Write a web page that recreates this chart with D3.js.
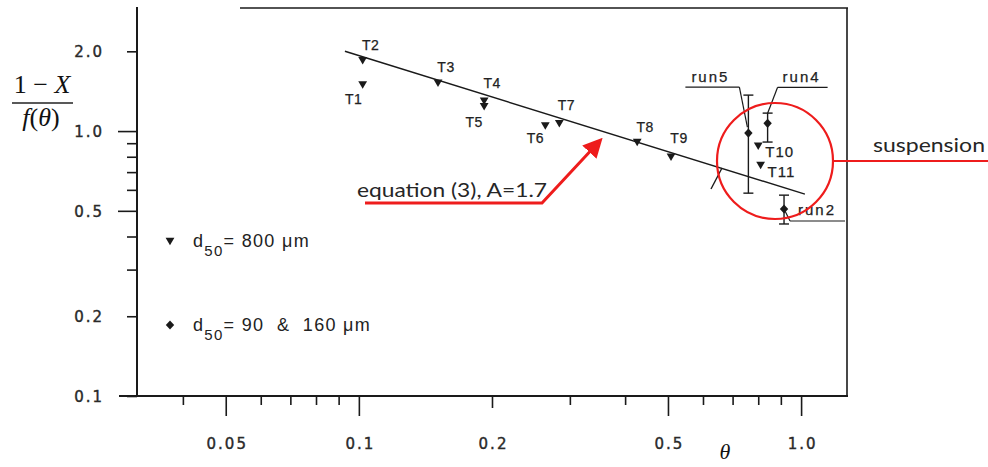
<!DOCTYPE html>
<html><head><meta charset="utf-8">
<script src="https://cdn.jsdelivr.net/npm/d3@7"></script>
<style>body{margin:0;background:#fff}svg{display:block}</style>
</head><body>
<svg id="c" width="988" height="467"></svg>
<script>
// ---- data ----
const triLabels = ["T1","T2","T3","T4","T5","T6","T7","T8","T9","T10","T11"];
const triTheta  = [0.102,0.102,0.151,0.192,0.192,0.264,0.284,0.426,0.508,0.80,0.81];
const triValue  = [1.50,1.85,1.52,1.30,1.24,1.05,1.07,0.91,0.80,0.88,0.745];

const runLabels = ["run5","run4","run2"];
const runTheta  = [0.76,0.84,0.915];
const runValue  = [0.983,1.07,0.508];
const runLow    = [0.583,0.909,0.446];
const runHigh   = [1.367,1.169,0.573];

const fitTheta = [0.093,1.02];
const fitValue = [2.0,0.578];

const xTickValues = [0.04,0.05,0.06,0.07,0.08,0.09,0.1,0.2,0.3,0.4,0.5,0.6,0.7,0.8,0.9,1.0];
const xTickText   = {"0.05":"0.05","0.1":"0.1","0.2":"0.2","0.5":"0.5","1":"1.0"};
const yTickValues = [0.1,0.2,0.3,0.4,0.5,0.6,0.7,0.8,0.9,1.0,2.0];
const yTickText   = {"0.1":"0.1","0.2":"0.2","0.5":"0.5","1":"1.0","2":"2.0"};

// ---- layout / style ----
const ink = "#1a1a1a", red = "#ee1c1c";
const svg = d3.select("#c");
svg.append("rect").attr("width",988).attr("height",467).attr("fill","#fff");

const x = d3.scaleLog().domain([0.0315,1.27]).range([137,847]);
const y = d3.scaleLog().domain([0.1,2.94]).range([396,7]);

// frame
const g = svg.append("g");
g.append("line").attr("x1",137).attr("x2",137).attr("y1",7).attr("y2",396).attr("stroke",ink).attr("stroke-width",2);
g.append("line").attr("x1",119).attr("x2",848).attr("y1",396).attr("y2",396).attr("stroke",ink).attr("stroke-width",2);
g.append("line").attr("x1",847).attr("x2",847).attr("y1",8).attr("y2",397).attr("stroke",ink).attr("stroke-width",1.6);
g.append("line").attr("x1",240).attr("x2",848).attr("y1",8).attr("y2",8).attr("stroke",ink).attr("stroke-width",1.4);

// axes
const tickFont = "'DejaVu Sans', Verdana, sans-serif";
const styleTick = sel => sel.style("font-family",tickFont).style("font-size","15px")
  .style("letter-spacing","2px").attr("fill","#2a2a2a").attr("stroke","#2a2a2a").attr("stroke-width",0.4);
const xAxis = d3.axisBottom(x).tickValues(xTickValues).tickSize(9)
  .tickFormat(d => xTickText[String(+d.toPrecision(3))] || "");
const xg = svg.append("g").attr("transform","translate(0,396)").call(xAxis);
xg.select(".domain").remove();
xg.selectAll(".tick line").attr("stroke",ink).attr("stroke-width",1.6)
  .attr("y2", d => ([0.05,0.1,0.5,1].some(v=>Math.abs(v-d)<1e-9) ? 20 : Math.abs(d-0.2)<1e-9 ? 12 : 9));
xg.selectAll(".tick text").attr("y",53).attr("dy",0).attr("dx",1).call(styleTick);

const yAxis = d3.axisLeft(y).tickValues(yTickValues).tickSize(10)
  .tickFormat(d => yTickText[String(+d.toPrecision(3))] || "");
const yg = svg.append("g").attr("transform","translate(137,0)").call(yAxis);
yg.select(".domain").remove();
yg.selectAll(".tick line").attr("stroke",ink).attr("stroke-width",1.6)
  .attr("x2", d => ([0.5,1].some(v=>Math.abs(v-d)<1e-9) ? -19 : -10));
yg.selectAll(".tick text").attr("x",-33).attr("dy","0.36em").attr("text-anchor","end").call(styleTick);

// axis titles
const serif = "'Liberation Serif','DejaVu Serif',serif";
const num = svg.append("text").attr("x",42).attr("y",93).attr("text-anchor","middle")
  .style("font-family",serif).style("font-size","26px").attr("fill","#111");
num.append("tspan").text("1 − ");
num.append("tspan").style("font-style","italic").text("X");
svg.append("line").attr("x1",12).attr("x2",73).attr("y1",103).attr("y2",103).attr("stroke","#222").attr("stroke-width",1.6);
const den = svg.append("text").attr("x",41).attr("y",126).attr("text-anchor","middle")
  .style("font-family",serif).style("font-size","26px").attr("fill","#111");
den.append("tspan").style("font-style","italic").text("f");
den.append("tspan").text("(");
den.append("tspan").style("font-style","italic").text("θ");
den.append("tspan").text(")");
svg.append("text").attr("x",725).attr("y",459).attr("text-anchor","middle")
  .style("font-family",serif).style("font-size","22px").style("font-style","italic").attr("fill","#111")
  .text("θ");

// fit line
const fit = fitTheta.map((t,i)=>[x(t),y(fitValue[i])]);
svg.append("path").attr("d",d3.line()(fit)).attr("stroke",ink).attr("stroke-width",1.5).attr("fill","none");

// triangles
const triPath = "M-4.4,-3.3L4.4,-3.3L0,4.2Z";
const diaPath = "M0,-4.6L4.2,0L0,4.6L-4.2,0Z";
const triOff = {T1:[-9,20,"middle"],T2:[8,-10,"middle"],T3:[8,-11,"middle"],T4:[8,-13,"middle"],
  T5:[-10,21,"middle"],T6:[-10,18,"middle"],T7:[7,-13,"middle"],T8:[8,-10,"middle"],T9:[8,-14,"middle"],
  T10:[7,11,"start"],T11:[7,12,"start"]};
const lblFont = "'Liberation Sans', Arial, sans-serif";
triLabels.forEach((lab,i)=>{
  const px = x(triTheta[i]), py = y(triValue[i]);
  svg.append("path").attr("d",triPath).attr("transform",`translate(${px},${py})`).attr("fill",ink);
  const o = triOff[lab];
  svg.append("text").attr("x",px+o[0]).attr("y",py+o[1]).attr("text-anchor",o[2])
    .style("font-family",lblFont).style("font-size",(lab.length>2?"15px":"14px"))
    .style("letter-spacing",(lab.length>2?"1px":"0.5px")).attr("fill","#222")
    .attr("stroke","#222").attr("stroke-width",0.25).text(lab);
});

// runs with error bars
const runAnn = {
  run5:{text:[-57,-51], ul:[-63,-9,-46], lead:[[-9,-46],[-1,-6]]},
  run4:{text:[15,-41], ul:[10,60,-36], lead:[[10,-36],[0,-10]]},
  run2:{text:[14,6], ul:[6,61,12], lead:[[0,0],[6,12]]}
};
runLabels.forEach((lab,i)=>{
  const px = x(runTheta[i]), py = y(runValue[i]);
  const yl = y(runLow[i]), yh = y(runHigh[i]);
  svg.append("line").attr("x1",px).attr("x2",px).attr("y1",yh).attr("y2",yl).attr("stroke",ink).attr("stroke-width",1.4);
  [yh,yl].forEach(yy=>svg.append("line").attr("x1",px-5).attr("x2",px+5).attr("y1",yy).attr("y2",yy).attr("stroke",ink).attr("stroke-width",1.4));
  svg.append("path").attr("d",diaPath).attr("transform",`translate(${px},${py})`).attr("fill",ink);
  const a = runAnn[lab];
  svg.append("text").attr("x",px+a.text[0]).attr("y",py+a.text[1])
    .style("font-family",lblFont).style("font-size","15px").style("letter-spacing","2px")
    .attr("fill","#222").attr("stroke","#222").attr("stroke-width",0.25).text(lab);
  svg.append("line").attr("x1",px+a.ul[0]).attr("x2",px+a.ul[1]).attr("y1",py+a.ul[2]).attr("y2",py+a.ul[2])
    .attr("stroke",ink).attr("stroke-width",1.2);
  svg.append("line").attr("x1",px+a.lead[0][0]).attr("y1",py+a.lead[0][1]).attr("x2",px+a.lead[1][0]).attr("y2",py+a.lead[1][1])
    .attr("stroke",ink).attr("stroke-width",1.2);
});

// small slash across the fit line
svg.append("line").attr("x1",711).attr("y1",189).attr("x2",722).attr("y2",168).attr("stroke",ink).attr("stroke-width",1.4);

// legend
const lg = [{y:241,shape:triPath,rest:"= 800 μm"},{y:325,shape:diaPath,rest:"= 90\u00a0\u00a0&\u00a0\u00a0160 μm"}];
lg.forEach(l=>{
  svg.append("path").attr("d",l.shape).attr("transform",`translate(170,${l.y})`).attr("fill",ink);
  const t = svg.append("text").attr("x",193).attr("y",l.y+6)
    .style("font-family",lblFont).style("font-size","18px").style("letter-spacing","1.3px").attr("fill","#222");
  t.append("tspan").text("d");
  t.append("tspan").attr("dy",9).style("font-size","15px").text("50");
  t.append("tspan").attr("dy",-9).text(l.rest);
});

// red annotations
const annFont = "Lato, 'Open Sans', sans-serif";
svg.append("circle").attr("cx",775).attr("cy",161).attr("r",58).attr("fill","none").attr("stroke",red).attr("stroke-width",2.2);
svg.append("line").attr("x1",833).attr("x2",988).attr("y1",161).attr("y2",161).attr("stroke",red).attr("stroke-width",2.2);
svg.append("text").attr("x",873).attr("y",152).attr("textLength",112).attr("lengthAdjust","spacingAndGlyphs")
  .style("font-family",annFont).style("font-size","20px").attr("fill","#262626").text("suspension");

svg.append("defs").append("marker").attr("id","ah").attr("viewBox","0 0 10 10").attr("refX",5).attr("refY",5)
  .attr("markerWidth",6.5).attr("markerHeight",6.5).attr("orient","auto-start-reverse")
  .append("path").attr("d","M0,0L10,5L0,10Z").attr("fill",red);
svg.append("path").attr("d","M365,203L542,203L596,145").attr("fill","none").attr("stroke",red).attr("stroke-width",3)
  .attr("marker-end","url(#ah)");
svg.append("text").attr("x",357).attr("y",197).attr("textLength",190).attr("lengthAdjust","spacingAndGlyphs")
  .style("font-family",annFont).style("font-size","20px").attr("fill","#262626").text("equation (3), A=1.7");
</script>
</body></html>
